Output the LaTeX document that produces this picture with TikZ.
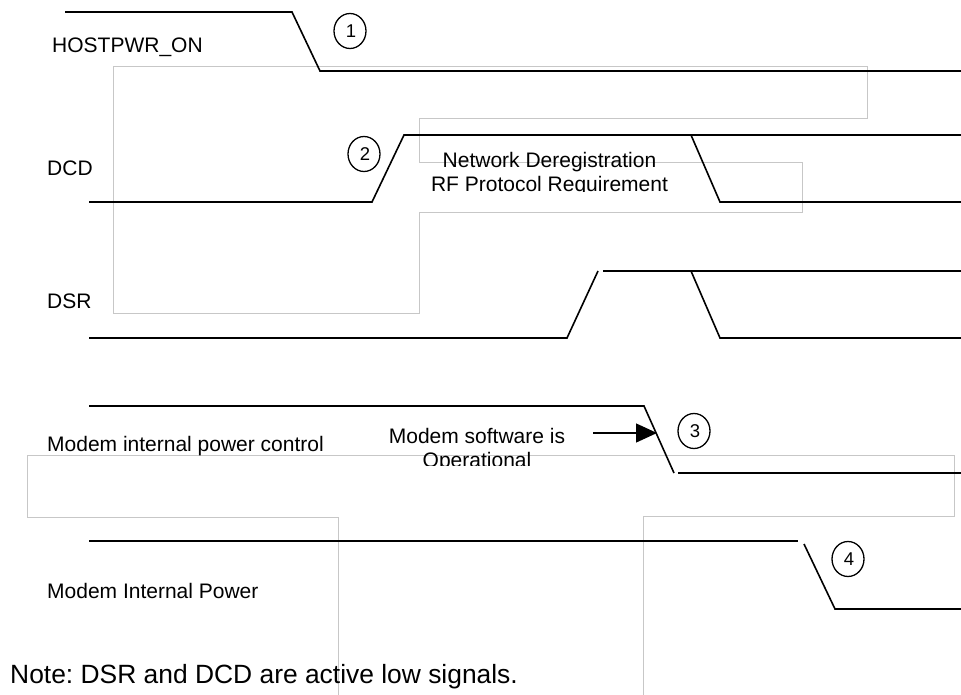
\documentclass[tikz,border=0pt]{standalone}
\usepackage{fontspec}
\setmainfont{Liberation Sans}
\usetikzlibrary{arrows.meta,shapes.geometric}
\frenchspacing
\tikzset{
  sig/.style={line width=1.6pt, black},
  guide/.style={line width=0.9pt, color=black!22},
  lbl/.style={anchor=base west, inner sep=0pt, font=\fontsize{21}{24}\selectfont},
  ctr/.style={anchor=base, inner sep=0pt, align=center, font=\fontsize{21}{24}\selectfont},
  num/.style={draw, ellipse, line width=1.3pt, minimum width=32pt, minimum height=35pt, inner sep=0pt, font=\fontsize{18.5}{18.5}\selectfont},
}
\begin{document}
\begin{tikzpicture}[x=1pt,y=-1pt]
\useasboundingbox (0,0) rectangle (961,695);
% grey guide outlines
\draw[guide] (113,66) -- (867,66) -- (867,118) -- (419,118) -- (419,162) -- (802,162) -- (802,212) -- (419,212) -- (419,313) -- (113,313) -- cycle;
\draw[guide] (338,695) -- (338,517) -- (27,517) -- (27,455) -- (954,455) -- (954,516) -- (643,516) -- (643,695);
% signal labels
\node[lbl] (hl) at (52,53) {HOSTPWR\_ON};
\node[lbl] (dcdl) at (47,176) {DCD};
\node[lbl] (dsrl) at (47,308) {DSR};
\node[lbl] (mpcl) at (47,451) {Modem internal power control};
\node[lbl] (mipl) at (47,598) {Modem Internal Power};
\node[anchor=base west, inner sep=0pt, font=\fontsize{26.4}{30}\selectfont] (note) at (10,683) {Note: DSR and DCD are active low signals.};
% clipped two-line notes
\begin{scope}
\clip (380,140) rectangle (720,192);
\node[ctr] (netw) at (549.5,192) {Network Deregistration\\RF Protocol Requirement};
\end{scope}
\begin{scope}
\clip (360,410) rectangle (600,465);
\node[ctr] (msw) at (477,467) {Modem software is\\Operational};
\end{scope}
% HOSTPWR_ON
\draw[sig] (65,12) -- (292,12) -- (320,71) -- (961,71);
% DCD
\draw[sig] (89,202) -- (372,202) -- (404,135) -- (961,135);
\draw[sig] (691,135) -- (720,202) -- (961,202);
% DSR
\draw[sig] (89,338) -- (567,338) -- (598,271);
\draw[sig] (603,271) -- (961,271);
\draw[sig] (691,271) -- (720,338) -- (961,338);
% Modem internal power control
\draw[sig] (89,406) -- (644,406) -- (674,473);
\draw[sig] (678,473) -- (961,473);
% Modem internal power
\draw[sig] (89,541) -- (798,541);
\draw[sig] (804,544) -- (835,609) -- (961,609);
% arrow
\coordinate (as) at (593,433);
\coordinate (ae) at (657,433);
\draw[line width=1.3pt, -{Triangle[length=21pt,width=19pt]}] (as) -- (ae);
% numbered circles
\node[num] (c1) at (350,31) {\raisebox{-1pt}{\hspace{2pt}1}};
\node[num] (c2) at (364,154) {\raisebox{-1pt}{\hspace{2pt}2}};
\node[num] (c3) at (694,431) {\raisebox{-1pt}{\hspace{2pt}3}};
\node[num] (c4) at (848,559) {\raisebox{-1pt}{\hspace{2pt}4}};
\end{tikzpicture}
\end{document}
